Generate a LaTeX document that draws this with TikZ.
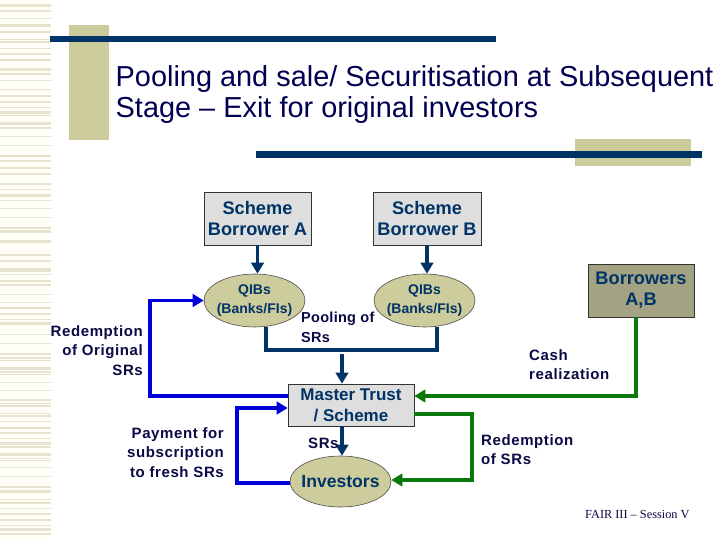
\documentclass[tikz,border=0pt]{standalone}
\usepackage{fontspec}
\setmainfont{Liberation Sans}
\newfontfamily\serifface{Liberation Serif}
\usetikzlibrary{shapes.geometric,arrows.meta}
\definecolor{navybar}{HTML}{003366}
\definecolor{tanblock}{HTML}{CBCB9B}
\definecolor{stripe}{HTML}{E4E4CF}
\definecolor{cream}{HTML}{FFFFF8}
\definecolor{titleink}{HTML}{000050}
\definecolor{labelink}{HTML}{0A0A46}
\definecolor{boxgrey}{HTML}{DEDEDE}
\definecolor{ovalfill}{HTML}{CCCC9C}
\definecolor{borrowfill}{HTML}{A3A384}
\definecolor{blueline}{HTML}{0000DC}
\definecolor{greenline}{HTML}{0A780A}
\tikzset{
  rectbox/.style={draw=black!80,line width=.7pt,fill=boxgrey,text=navybar,align=center,inner sep=0pt,font=\fontsize{18.2}{20.5}\selectfont\bfseries},
  oval/.style={ellipse,draw=black!70,line width=.6pt,fill=ovalfill,text=navybar,align=center,inner xsep=-6pt,inner ysep=-4pt},
  lbl/.style={text=labelink,inner sep=0pt,font=\fontsize{15}{19.4}\selectfont\bfseries\addfontfeature{LetterSpace=4}},
  flow/.style={line width=3.6pt,line join=miter,-{Triangle[length=11pt,width=12.5pt]}},
  plainflow/.style={line width=3.6pt,line join=miter},
  navyflow/.style={draw=navybar},
  blueflow/.style={draw=blueline},
  greenflow/.style={draw=greenline},
}
\begin{document}
\begin{tikzpicture}[x=1pt,y=-1pt]
\useasboundingbox (0,0) rectangle (720,540);
\fill[white] (0,0) rectangle (720,540);
\fill[cream] (0,0) rectangle (51,540);
\foreach \a/\b in {4/7,10.5/12,18/19,24/27,31/33,39.5/40.5,41/43,48/49,53/55,59/61,68/71,73/75,80/81,89/90,95/97,101/103,107/108,111/114,115/116.5,122/125,127/128,128.5/129.5,136/137,145/146,155/157,160/162,167/169,173/175,
183/185,189/190,194/197,200/201.5,208/209,217/218,227/229,230/233,240/243,254/256,260/262,268/272,274/275,280/282,284/286,294/295,302/303,307/309,313/315,319/320,322/325,334/335,343/344,353/355,357/359,
360/361,367/370,371/372.5,374/375,381.5/382.5,390/391,399/401,403/404,405/407,413/414,415/417,421/422,427/429,432/434,438/439,442/445,446/448,453/456,458/459,460/461,467/468,476/477,486/488,490/493,499/500,502/504,508/509,513/515,519/521,525/526,528/531,533/535}
  \fill[stripe] (0,\a) rectangle (51,\b);
\fill[tanblock] (69,25) rectangle (109,140);
\fill[tanblock] (575,139) rectangle (691,166);
\fill[navybar] (50,36) rectangle (496,42);
\fill[navybar] (256,151) rectangle (702,158);
\node[anchor=base west,inner sep=0pt,text=titleink,font=\fontsize{28.9}{31}\selectfont] (title1) at (115.5,87) {Pooling and sale/ Securitisation at Subsequent};
\node[anchor=base west,inner sep=0pt,text=titleink,font=\fontsize{28.9}{31}\selectfont] (title2) at (115.5,117.5) {Stage – Exit for original investors};

\node[rectbox,minimum width=107pt,minimum height=53pt] (schemeA) at (257.5,218.5) {Scheme\\Borrower A};
\node[rectbox,minimum width=108pt,minimum height=53pt] (schemeB) at (427,218.5) {Scheme\\Borrower B};
\node[oval,minimum width=101pt,minimum height=53pt,font=\fontsize{14}{19}\selectfont\bfseries] (qibA) at (254.5,300.5) {QIBs\\(Banks/FIs)};
\node[oval,minimum width=101pt,minimum height=53pt,font=\fontsize{14}{19}\selectfont\bfseries] (qibB) at (424.5,300.5) {QIBs\\(Banks/FIs)};
\node[rectbox,fill=borrowfill,minimum width=106pt,minimum height=53pt,font=\fontsize{18.2}{21}\selectfont\bfseries] (borrowers) at (641,290.5) {Borrowers\\A,B};
\node[rectbox,minimum width=126pt,minimum height=42pt,font=\fontsize{17}{21}\selectfont\bfseries] (master) at (351,405) {Master Trust\\/ Scheme};
\node[oval,minimum width=101pt,minimum height=51pt,inner xsep=-8pt,font=\fontsize{17.6}{20}\selectfont\bfseries] (investors) at (340.5,481.5) {Investors};

\coordinate (poolL) at (266,350);
\coordinate (poolR) at (437,350);
\coordinate (poolTop) at (342,354);
\coordinate (blueCornerBot) at (150,396);
\coordinate (blue2Top) at (237,408);
\coordinate (blue2Bot) at (237,483);
\coordinate (greenCorner) at (636,396);
\coordinate (green2Top) at (472,414);
\coordinate (green2Bot) at (472,480);

\draw[flow,navyflow] (schemeA.south) -- (schemeA.south |- qibA.north);
\draw[flow,navyflow] (schemeB.south) -- (schemeB.south |- qibB.north);
\draw[plainflow,navyflow] (qibA.south -| poolL) -- (poolL) -- (poolR) -- (qibB.south -| poolR);
\draw[flow,navyflow] (poolTop) -- (poolTop |- master.north);
\draw[flow,navyflow] (poolTop |- master.south) -- (poolTop |- investors.north);
\draw[flow,blueflow] (master.west |- blueCornerBot) -- (blueCornerBot) -- (blueCornerBot |- qibA.west) -- (qibA.west);
\draw[flow,blueflow] (investors.west |- blue2Bot) -- (blue2Bot) -- (blue2Top) -- (master.west |- blue2Top);
\draw[flow,greenflow] (borrowers.south -| greenCorner) -- (greenCorner) -- (master.east |- greenCorner);
\draw[flow,greenflow] (master.east |- green2Top) -- (green2Top) -- (green2Bot) -- (investors.east |- green2Bot);

\node[lbl,align=right,anchor=east] (l1) at (143,350.5) {Redemption\\of Original\\SRs};
\node[lbl,align=right,anchor=east] (l2) at (224,452.5) {Payment for\\subscription\\to fresh SRs};
\node[lbl,align=left,anchor=west,font=\fontsize{14.5}{19.4}\selectfont\bfseries\addfontfeature{LetterSpace=2}] (l3) at (301,327.5) {Pooling of\\SRs};
\node[lbl,anchor=west] (l4) at (308,443) {SRs};
\node[lbl,align=left,anchor=west] (l5) at (529,364.5) {Cash\\realization};
\node[lbl,align=left,anchor=west] (l6) at (481,449.5) {Redemption\\of SRs};
\node[anchor=west,inner sep=0pt,text=labelink,font=\serifface\fontsize{12.3}{14}\selectfont] (footer) at (585,515) {FAIR III – Session V};
\end{tikzpicture}
\end{document}
